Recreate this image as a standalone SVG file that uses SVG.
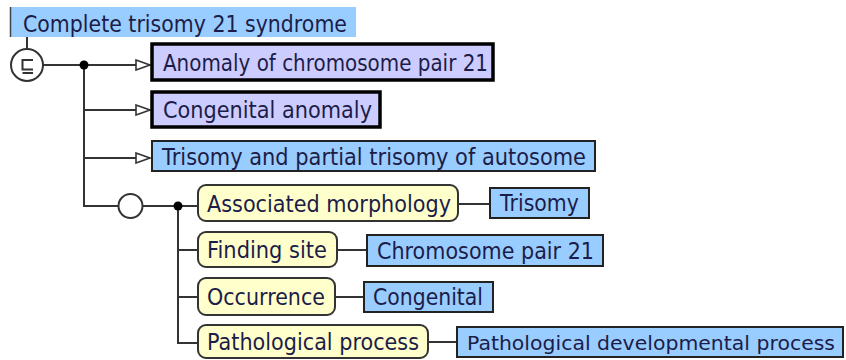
<svg xmlns="http://www.w3.org/2000/svg" width="846" height="360" viewBox="0 0 846 360">
  <style>
    .lbl { font-family: "DejaVu Sans", "Liberation Sans", sans-serif; font-size: 22.5px; fill: #1c1c48; }
    .lbl.long { font-size: 20.2px; }
    .concept { fill: #99ccff; stroke: #222; stroke-width: 2; }
    .primitive { fill: #ccccff; stroke: #000; stroke-width: 3.5; }
    .attr { fill: #ffffcc; stroke: #333; stroke-width: 2; }
    .wire { fill: none; stroke: #333; stroke-width: 2; }
  </style>
  <defs>
    <marker id="isa" viewBox="0 0 16 12" refX="15" refY="6" markerWidth="16" markerHeight="12" markerUnits="userSpaceOnUse" orient="auto">
      <path d="M1,1 L15,6 L1,11 Z" fill="#fff" stroke="#333" stroke-width="1.6"/>
    </marker>
  </defs>
  <rect width="846" height="360" fill="#fff"/>

  <!-- connectors -->
  <g id="connectors">
    <line class="wire" x1="27" y1="37" x2="27" y2="49"/>
    <line class="wire" x1="43" y1="65" x2="150" y2="65" marker-end="url(#isa)"/>
    <polyline class="wire" points="84,65 84,206 118,206"/>
    <line class="wire" x1="84" y1="110" x2="150" y2="110" marker-end="url(#isa)"/>
    <line class="wire" x1="84" y1="158" x2="150" y2="158" marker-end="url(#isa)"/>
    <line class="wire" x1="143" y1="206" x2="198" y2="206"/>
    <polyline class="wire" points="178,206 178,343 198,343"/>
    <line class="wire" x1="178" y1="250" x2="198" y2="250"/>
    <line class="wire" x1="178" y1="297" x2="198" y2="297"/>
    <line class="wire" x1="458" y1="204" x2="490" y2="204"/>
    <line class="wire" x1="337" y1="250" x2="367" y2="250"/>
    <line class="wire" x1="335" y1="297" x2="364" y2="297"/>
    <line class="wire" x1="428" y1="342" x2="457" y2="342"/>
    <circle cx="84" cy="65" r="4.5" fill="#000"/>
    <circle cx="178" cy="206" r="4.5" fill="#000"/>
    <!-- role group junction -->
    <circle cx="130.5" cy="206" r="12" fill="#fff" stroke="#333" stroke-width="2"/>
  </g>

  <!-- focus concept -->
  <g id="n-complete-trisomy-21">
    <rect x="10" y="7" width="346" height="30" fill="#99ccff"/>
    <line x1="10.5" y1="7" x2="10.5" y2="37" stroke="#444" stroke-width="1.5"/>
    <text class="lbl" x="23" y="31.5" textLength="324" lengthAdjust="spacingAndGlyphs">Complete trisomy 21 syndrome</text>
  </g>

  <!-- definition status (fully defined) -->
  <g id="n-definition-status">
    <circle cx="27" cy="65" r="16" fill="#fff" stroke="#333" stroke-width="2"/>
    <path d="M33,60 H22.5 V69.5 H33 M22.5,73 H33" fill="none" stroke="#333" stroke-width="2"/>
  </g>

  <g id="n-anomaly-chr-pair-21">
    <rect class="primitive" x="152" y="44" width="341" height="36"/>
    <text class="lbl" x="163" y="71" textLength="325" lengthAdjust="spacingAndGlyphs">Anomaly of chromosome pair 21</text>
  </g>

  <g id="n-congenital-anomaly">
    <rect class="primitive" x="152" y="92" width="228" height="35"/>
    <text class="lbl" x="163" y="118" textLength="209" lengthAdjust="spacingAndGlyphs">Congenital anomaly</text>
  </g>

  <g id="n-trisomy-autosome">
    <rect class="concept" x="152" y="141" width="443" height="30"/>
    <text class="lbl" x="162" y="164.5" textLength="424" lengthAdjust="spacingAndGlyphs">Trisomy and partial trisomy of autosome</text>
  </g>

  <g id="n-associated-morphology">
    <rect class="attr" x="198" y="185" width="260" height="36" rx="8"/>
    <text class="lbl" x="207" y="212" textLength="244" lengthAdjust="spacingAndGlyphs">Associated morphology</text>
  </g>

  <g id="n-trisomy">
    <rect class="concept" x="490" y="188" width="99" height="30"/>
    <text class="lbl" x="500" y="211" textLength="79" lengthAdjust="spacingAndGlyphs">Trisomy</text>
  </g>

  <g id="n-finding-site">
    <rect class="attr" x="198" y="232" width="139" height="35" rx="8"/>
    <text class="lbl" x="207" y="258" textLength="120" lengthAdjust="spacingAndGlyphs">Finding site</text>
  </g>

  <g id="n-chr-pair-21">
    <rect class="concept" x="367" y="235" width="236" height="31"/>
    <text class="lbl" x="377" y="259" textLength="217" lengthAdjust="spacingAndGlyphs">Chromosome pair 21</text>
  </g>

  <g id="n-occurrence">
    <rect class="attr" x="198" y="278" width="137" height="37" rx="8"/>
    <text class="lbl" x="207" y="305" textLength="118" lengthAdjust="spacingAndGlyphs">Occurrence</text>
  </g>

  <g id="n-congenital">
    <rect class="concept" x="364" y="282" width="129" height="30"/>
    <text class="lbl" x="373" y="305" textLength="110" lengthAdjust="spacingAndGlyphs">Congenital</text>
  </g>

  <g id="n-pathological-process">
    <rect class="attr" x="198" y="325" width="230" height="33" rx="8"/>
    <text class="lbl" x="207" y="350" textLength="212" lengthAdjust="spacingAndGlyphs">Pathological process</text>
  </g>

  <g id="n-pathological-dev-process">
    <rect class="concept" x="457" y="327" width="386" height="30"/>
    <text class="lbl long" x="467" y="350" textLength="368" lengthAdjust="spacingAndGlyphs">Pathological developmental process</text>
  </g>
</svg>
